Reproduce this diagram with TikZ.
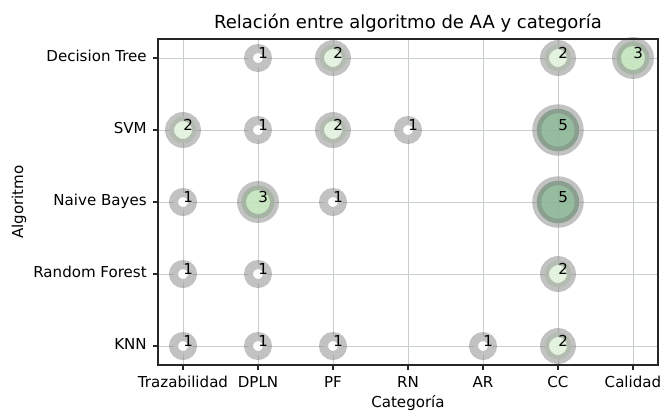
\documentclass[tikz,border=0pt]{standalone}
\usepackage{fontspec}
\setmainfont{DejaVu Sans}
\definecolor{gridgray}{RGB}{198,206,210}
\definecolor{ringgray}{RGB}{128,128,128}
\definecolor{bub1}{RGB}{255,255,255}
\definecolor{bub2}{RGB}{226,242,220}
\definecolor{bub3}{RGB}{196,228,190}
\definecolor{bub5}{RGB}{140,182,150}
\begin{document}
\begin{tikzpicture}[x=56.25pt, y=54pt,
        grid line/.style = {draw=gridgray, line width=0.7pt},
        spine/.style = {draw=black!85, line width=0.9pt},
        bubble/.style = {fill opacity=0.92, draw=ringgray, draw opacity=0.48, line width=6.75pt},
        count/.style = {anchor=base west, inner sep=0pt, font=\fontsize{11.3}{13}\selectfont},
        tick label/.style = {inner sep=0pt, font=\fontsize{11.3}{13}\selectfont}
        ]
        \useasboundingbox (-2.44,-0.931) rectangle (6.387,4.806);
        % grid
        \foreach \i in {0,...,6}
            \draw[grid line] (\i,-0.264) -- (\i,4.264);
        \foreach \j in {0,...,4}
            \draw[grid line] (-0.333,\j) -- (6.333,\j);
        % bubbles: category / algorithm / count
        \foreach \x/\y/\c in {1/4/1, 2/4/2, 5/4/2, 6/4/3,
                0/3/2, 1/3/1, 2/3/2, 3/3/1, 5/3/5,
                0/2/1, 1/2/3, 2/2/1, 5/2/5,
                0/1/1, 1/1/1, 5/1/2,
                0/0/1, 1/0/1, 2/0/1, 4/0/1, 5/0/2}
            \draw[bubble, fill=bub\c] (\x,\y) circle [radius={7.125pt*sqrt(\c)}];
        \foreach \x/\y/\c in {1/4/1, 2/4/2, 5/4/2, 6/4/3,
                0/3/2, 1/3/1, 2/3/2, 3/3/1, 5/3/5,
                0/2/1, 1/2/3, 2/2/1, 5/2/5,
                0/1/1, 1/1/1, 5/1/2,
                0/0/1, 1/0/1, 2/0/1, 4/0/1, 5/0/2}
            \node[count] (n-\x-\y) at (\x,\y) {\c};
        % axes
        \draw[spine] (-0.333,-0.264) rectangle (6.333,4.264);
        \foreach \name [count=\i from 0] in {Trazabilidad, DPLN, PF, RN, AR, CC, Calidad} {
            \draw[spine] (\i,-0.264) -- ++(0,-3.75pt);
            \node[tick label, anchor=base] (cat-\i) at (\i,-0.583) {\name};
        }
        \foreach \name [count=\j from 0] in {KNN, Random Forest, Naive Bayes, SVM, Decision Tree} {
            \draw[spine] (-0.333,\j) -- ++(-3.75pt,0);
            \node[tick label, anchor=mid east] (alg-\j) at (-0.48,\j) {\name};
        }
        \node[tick label, anchor=base] (xlabel) at (3,-0.847) {Categoría};
        \node[tick label, anchor=base, rotate=90] (ylabel) at (-2.133,2) {Algoritmo};
        \node[anchor=base, inner sep=0pt, font=\fontsize{13.5}{16}\selectfont] (title) at (3,4.417)
            {Relación entre algoritmo de AA y categoría};
    \end{tikzpicture}
\end{document}
